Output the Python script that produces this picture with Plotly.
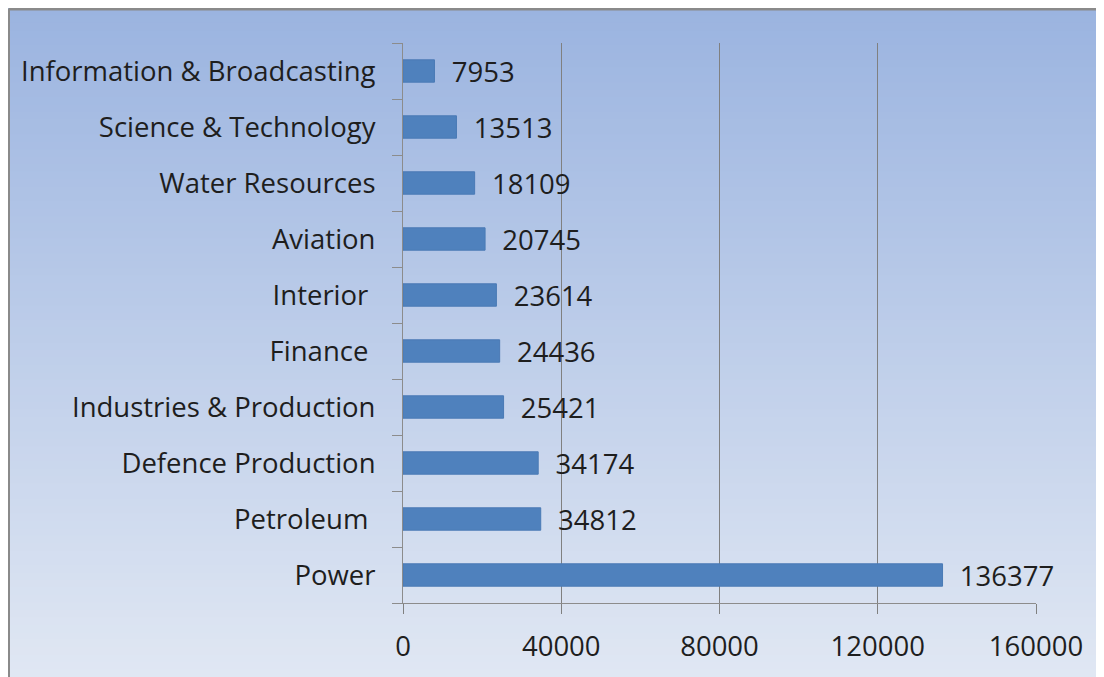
import plotly.graph_objects as go

# data (bottom to top, as drawn)
categories = ["Power", "Petroleum ", "Defence Production", "Industries & Production",
              "Finance ", "Interior ", "Aviation", "Water Resources",
              "Science & Technology", "Information & Broadcasting"]
values = [136377, 34812, 34174, 25421, 24436, 23614, 20745, 18109, 13513, 7953]
x_ticks = [0, 40000, 80000, 120000, 160000]

# figure sits at (8, 8) in the page because of the body margin
W, H = 1096, 669
L, R, T, B = 395, 68, 35, 74
pw, ph = W - L - R, H - T - B
FS = 27.5


def px_to_paper(x, y):
    return (x - L) / pw, (H - B - y) / ph


fig = go.Figure()
fig.add_trace(go.Bar(
    y=categories, x=values, orientation="h",
    marker=dict(color="#4f81bd", line=dict(color="#4a7ab5", width=1)),
    width=0.4,
    text=[str(v) for v in values], texttemplate="  %{text}", textposition="outside",
    textfont=dict(size=FS, color="#1e1e1e"),
    constraintext="none", cliponaxis=False,
))

# gradient background as thin bands
top_c = (155, 180, 224)
bot_c = (224, 231, 243)
n = 90
shapes = []
x0p, _ = px_to_paper(0, 0)
x1p, _ = px_to_paper(W, 0)
for i in range(n):
    ya = H * i / n
    yb = H * (i + 1) / n + 1
    t = i / (n - 1)
    c = tuple(round(top_c[k] + (bot_c[k] - top_c[k]) * t) for k in range(3))
    _, y0p = px_to_paper(0, ya)
    _, y1p = px_to_paper(0, yb)
    shapes.append(dict(type="rect", xref="paper", yref="paper", x0=x0p, x1=x1p,
                       y0=y1p, y1=y0p, fillcolor="rgb(%d,%d,%d)" % c,
                       line=dict(width=0), layer="below"))
# frame lines on the left and top edges
lx, _ = px_to_paper(0.5, 0)
_, ty = px_to_paper(0, 1)
_, by = px_to_paper(0, H)
shapes.append(dict(type="line", xref="paper", yref="paper", x0=lx, x1=lx, y0=by, y1=ty,
                   line=dict(color="#8a8a8a", width=3), layer="above"))
shapes.append(dict(type="line", xref="paper", yref="paper", x0=lx, x1=x1p, y0=ty, y1=ty,
                   line=dict(color="#8a8a8a", width=3), layer="above"))

fig.update_layout(
    width=W, height=H,
    margin=dict(l=L, r=R, t=T, b=B),
    paper_bgcolor="white", plot_bgcolor="rgba(0,0,0,0)",
    font=dict(family="Open Sans", size=FS, color="#1e1e1e"),
    showlegend=False,
    shapes=shapes,
    xaxis=dict(range=[0, 160000], tickvals=x_ticks, ticktext=[str(v) for v in x_ticks],
               showgrid=True, gridcolor="#808080", gridwidth=1,
               showline=True, linecolor="#8c8c8c", linewidth=1,
               ticks="outside", ticklen=10, tickcolor="#808080",
               zeroline=False, tickfont=dict(size=FS), ticklabelstandoff=9),
    yaxis=dict(showline=True, linecolor="#8c8c8c", linewidth=1,
               ticks="outside", ticklen=10, tickcolor="#8c8c8c", tickson="boundaries",
               showgrid=False, tickfont=dict(size=FS), ticklabelstandoff=21),
)

fig.write_html("out.html")
